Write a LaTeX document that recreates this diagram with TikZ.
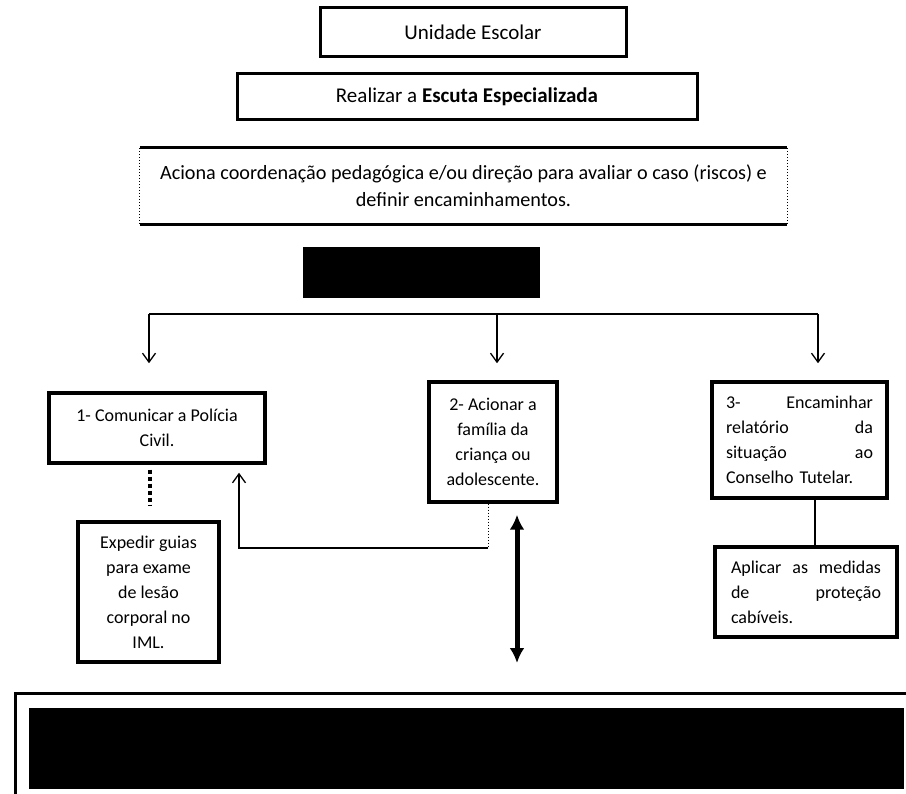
\documentclass[tikz,border=0pt]{standalone}
\usepackage{fontspec}
\setmainfont{Carlito}
\usetikzlibrary{arrows.meta}

\tikzset{
  topbox/.style={draw, line width=3pt, inner sep=0pt, align=center,
    font=\fontsize{21}{27}\selectfont},
  flowbox/.style={draw, line width=3.5pt, inner sep=0pt, align=center,
    font=\fontsize{18}{25}\selectfont},
  justbox/.style={flowbox, align=left, inner xsep=14pt},
  redacted/.style={fill=black, draw=none, inner sep=0pt},
  link/.style={line width=1.3pt},
  linkarrow/.style={link, -{Straight Barb[length=9pt,width=13pt,line width=1.3pt]}},
  dotlink/.style={line width=1pt, dash pattern=on 1.5pt off 1.5pt},
  heavydots/.style={line width=4pt, dash pattern=on 4pt off 3pt},
  bothways/.style={line width=5pt, {Latex[length=15pt,width=15pt]}-{Latex[length=15pt,width=15pt]}}
}

\begin{document}
\begin{tikzpicture}[x=1pt, y=-1pt]
  \clip (0,0) rectangle (906,794);
  \fill[white] (0,0) rectangle (906,794);

  % header boxes
  \node[topbox, minimum width=306pt, minimum height=49pt] (unidade) at (473,32.5) {Unidade Escolar};
  \node[topbox, minimum width=460pt, minimum height=46pt] (escuta) at (467,97)
    {Realizar a \textbf{Escuta Especializada}};
  \node[inner sep=0pt, minimum width=647pt, minimum height=76pt, align=center,
        font=\fontsize{20.2}{27}\selectfont] (aciona) at (463.5,186)
    {Aciona coordenação pedagógica e/ou direção para avaliar o caso (riscos) e\\
     definir encaminhamentos.};
  \draw[line width=3pt] (aciona.north west) -- (aciona.north east);
  \draw[line width=3pt] (aciona.south west) -- (aciona.south east);
  \draw[dotlink] (aciona.north west) -- (aciona.south west);
  \draw[dotlink] (aciona.north east) -- (aciona.south east);

  % hidden label
  \node[redacted, minimum width=237pt, minimum height=51pt] (oculto) at (421.5,272.5) {};

  % three branches
  \node[flowbox, minimum width=216pt, minimum height=70pt] (policia) at (157,428)
    {1- Comunicar a Polícia\\Civil.};
  \node[flowbox, minimum width=128pt, minimum height=120pt] (familia) at (493,442)
    {2- Acionar a\\família da\\criança ou\\adolescente.};
  \node[justbox, text width=147pt, minimum height=116pt] (conselho) at (799.5,440)
    {3-\hfill Encaminhar\\relatório\hfill da\\situação\hfill ao\\Conselho Tutelar.};

  % follow-up boxes
  \node[flowbox, minimum width=141pt, minimum height=140pt] (expedir) at (148.5,592)
    {Expedir guias\\para exame\\de lesão\\corporal no\\IML.};
  \node[justbox, text width=150pt, inner xsep=16pt, minimum height=90pt] (aplicar) at (806,592)
    {Aplicar\hfill as\hfill medidas\\de\hfill proteção\\cabíveis.};

  % bottom panel
  \node[draw, line width=3pt, inner sep=0pt, minimum width=920pt, minimum height=130pt,
        anchor=north west] (rodape) at (14,692) {};
  \node[redacted, minimum width=875pt, minimum height=81pt, anchor=north west] (rodapetexto)
    at (29,708) {};

  % branch connectors
  \coordinate (j1) at (149,314);
  \coordinate (j2) at (497,314);
  \coordinate (j3) at (818,314);
  \draw[link] (j1) -- (j3);
  \draw[linkarrow, shorten >=28pt] (j1) -- (j1 |- policia.north);
  \draw[linkarrow, shorten >=17pt] (j2) -- (j2 |- familia.north);
  \draw[linkarrow, shorten >=17pt] (j3) -- (j3 |- conselho.north);

  % family back to police
  \coordinate (c1) at (488,548);
  \coordinate (c2) at (239,548);
  \draw[dotlink] (c1 |- familia.south) -- (c1);
  \draw[linkarrow, shorten >=8pt] (c1) -- (c2) -- (c2 |- policia.south);

  % police to exam guide
  \draw[heavydots, shorten <=5pt, shorten >=15pt] (policia.south -| 150,0) -- (expedir.north -| 150,0);

  % council to protective measures
  \draw[link] (conselho.south -| 815,0) -- (aplicar.north -| 815,0);

  % two-way link to bottom panel
  \draw[bothways, shorten <=11pt, shorten >=29pt] (familia.south -| 517,0) -- (rodape.north -| 517,0);
\end{tikzpicture}
\end{document}
